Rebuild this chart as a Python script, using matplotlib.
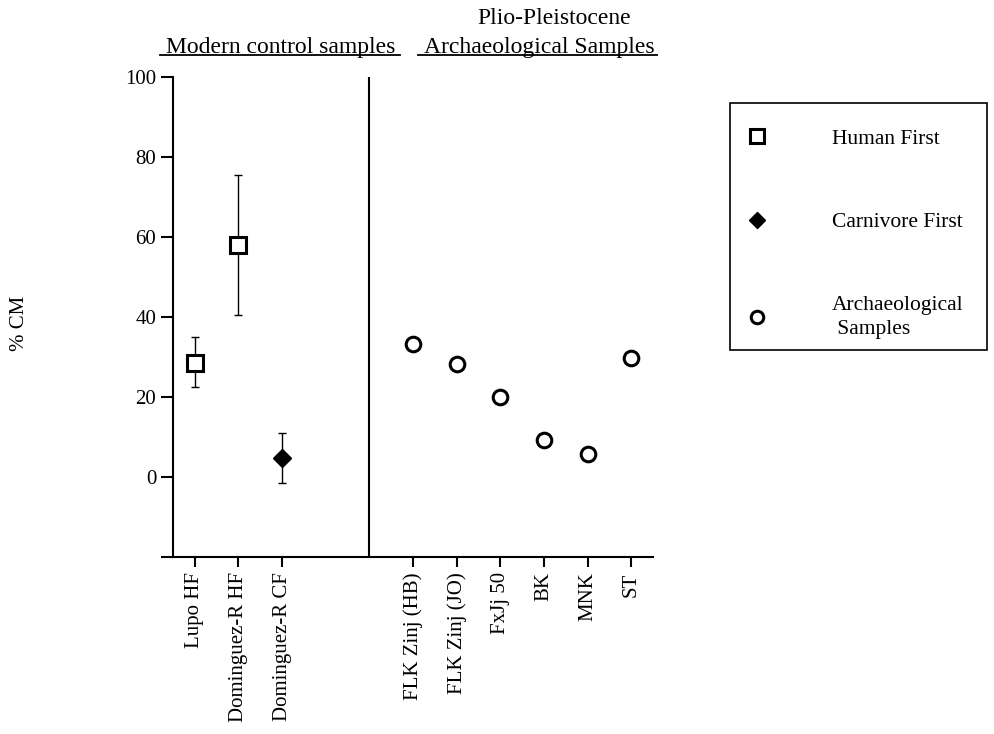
import numpy as np
import matplotlib
matplotlib.use('Agg')
import matplotlib.pyplot as plt
from matplotlib.lines import Line2D
from matplotlib.patches import Rectangle
import matplotlib.transforms as mtransforms

plt.rcParams['font.family'] = ['Liberation Serif', 'DejaVu Serif']

# Modern control samples
modern_labels = ['Lupo HF', 'Dominguez-R HF', 'Dominguez-R CF']
modern_pos = [0, 1, 2]
modern_val = [28.5, 58.0, 4.8]
modern_hi = [35.0, 75.5, 11.0]
modern_lo = [22.5, 40.5, -1.5]
modern_kind = ['HF', 'HF', 'CF']

# Plio-Pleistocene archaeological samples
arch_labels = ['FLK Zinj (HB)', 'FLK Zinj (JO)', 'FxJj 50', 'BK', 'MNK', 'ST']
arch_pos = [5, 6, 7, 8, 9, 10]
arch_val = [33.2, 28.3, 20.0, 9.3, 5.7, 29.8]

fs = 15
fs_head = 17
fs_leg = 15.5
fig = plt.figure(figsize=(9.95, 7.34), dpi=100)
ax = fig.add_axes([0.1739, 0.2411, 0.4824, 0.654])

lw_spine = 1.5
for s in ['top', 'right']:
    ax.spines[s].set_visible(False)
for s in ['left', 'bottom']:
    ax.spines[s].set_linewidth(lw_spine)

# error bars + markers, modern samples
for x, v, hi, lo, k in zip(modern_pos, modern_val, modern_hi, modern_lo, modern_kind):
    ax.errorbar([x], [v], yerr=[[v - lo], [hi - v]], fmt='none', ecolor='k',
                elinewidth=1, capsize=3, capthick=1, zorder=2)
    if k == 'HF':
        ax.plot([x], [v], marker='s', ms=12, mfc='white', mec='k', mew=2.2,
                ls='none', zorder=3)
    else:
        ax.plot([x], [v], marker='D', ms=9, mfc='k', mec='k', ls='none', zorder=3)

ax.plot(arch_pos, arch_val, marker='o', ms=10.5, mfc='white', mec='k', mew=2.2,
        ls='none', zorder=3)

ax.axvline(4, color='k', lw=lw_spine)

ax.set_xlim(-0.5, 10.5)
ax.set_ylim(-20, 100)
ax.set_yticks([-20, 0, 20, 40, 60, 80, 100])
ax.set_yticklabels(['', '0', '20', '40', '60', '80', '100'], fontsize=fs)
ax.set_xticks(modern_pos + arch_pos)
ax.set_xticklabels(modern_labels + arch_labels, rotation=90, fontsize=fs)
ax.tick_params(axis='y', direction='out', length=9, width=1.5, pad=3)
ax.tick_params(axis='x', direction='out', length=7, width=1.5, pad=4)

ax.set_ylabel('% CM', fontsize=fs)
ax.yaxis.set_label_coords(-0.300, 0.4875)

# group headers
trans = mtransforms.blended_transform_factory(ax.transData, ax.transAxes)
ax.text(1.97, 1.050, 'Modern control samples', transform=trans, ha='center',
        va='baseline', fontsize=fs_head)
ax.plot([-0.8, 4.7], [1.046, 1.046], transform=trans, color='k', lw=1.3,
        clip_on=False)
ax.text(7.9, 1.050, 'Archaeological Samples', transform=trans, ha='center',
        va='baseline', fontsize=fs_head)
ax.plot([5.11, 10.6], [1.046, 1.046], transform=trans, color='k', lw=1.3,
        clip_on=False)
ax.text(8.23, 1.110, 'Plio-Pleistocene', transform=trans, ha='center',
        va='baseline', fontsize=fs_head)

# legend
handles = [
    Line2D([], [], marker='s', ms=10, mfc='white', mec='k', mew=2.2, ls='none'),
    Line2D([], [], marker='D', ms=8, mfc='k', mec='k', ls='none'),
    Line2D([], [], marker='o', ms=9, mfc='white', mec='k', mew=2.2, ls='none'),
]
labels = ['Human First', 'Carnivore First', 'Archaeological\n Samples']
leg = fig.legend(handles, labels, loc='upper left',
                 bbox_to_anchor=(730 / 995, 1 - 103 / 734),
                 fontsize=fs_leg, frameon=False,
                 handlelength=0.1, handletextpad=3.44,
                 labelspacing=2.95, borderpad=1.2, borderaxespad=0)
for t in leg.get_texts():
    t.set_linespacing(1.35)
fig.patches.append(Rectangle((730 / 995, 1 - 350 / 734), 257 / 995, 247 / 734,
                             transform=fig.transFigure, fill=False,
                             edgecolor='k', lw=1.2))

fig.savefig('out.png', dpi=100)
